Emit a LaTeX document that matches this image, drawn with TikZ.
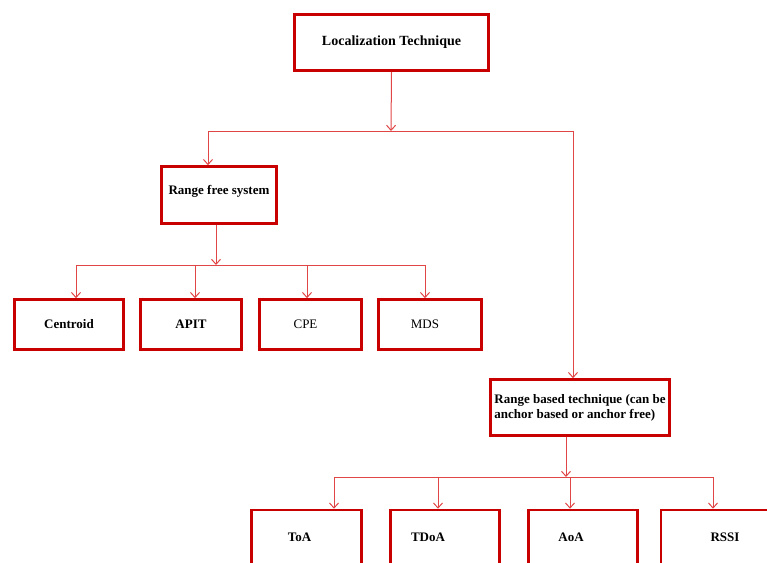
\documentclass[tikz,border=0pt]{standalone}
\usepackage{fontspec}
\setmainfont{Liberation Serif}
\usetikzlibrary{arrows.meta,calc}
\definecolor{boxred}{RGB}{200,0,0}
\definecolor{linkred}{RGB}{225,70,70}

\begin{document}
\begin{tikzpicture}[x=1pt,y=-1pt,>={Straight Barb[length=5pt,width=9pt]},
tech/.style ={rectangle, draw=boxred, line width=2.6pt, fill=white, align=center, inner sep=0pt, font=\fontsize{13}{15}\selectfont\bfseries, minimum height=50pt, minimum width=106pt},
plain/.style ={font=\fontsize{13}{15}\selectfont},
link/.style ={linkred, line width=1pt}]

\useasboundingbox (0,0) rectangle (767,562);
\clip (0,0) rectangle (767,562);

\draw (391.5,42.5) node[tech, minimum width=194pt, minimum height=56pt, font=\fontsize{14}{16}\selectfont\bfseries] (LT) {Localization Technique};
\draw (219,195) node[tech, minimum width=115pt, minimum height=57pt] (RF) {Range free system\\[-5pt]};
\draw (580,407.5) node[tech, minimum width=179pt, minimum height=56pt, align=left] (RB) {Range based technique (can be\\anchor based or anchor free)};

\draw (69,324.5) node[tech, minimum width=109pt] (CEN) {Centroid};
\draw (191,324.5) node[tech, minimum width=101pt] (APIT) {APIT};
\draw (310.5,324.5) node[tech, plain, minimum width=102pt] (CPE) {\hspace*{-10pt}CPE};
\draw (430,324.5) node[tech, plain, minimum width=103pt] (MDS) {\hspace*{-10pt}MDS};

\draw (306.5,539) node[tech, minimum width=110pt, minimum height=58pt] (TOA) {\raisebox{4pt}{\hspace*{-14pt}ToA}};
\draw (445,539) node[tech, minimum width=109pt, minimum height=58pt] (TDOA) {\raisebox{4pt}{\hspace*{-34pt}TDoA}};
\draw (583,539) node[tech, minimum width=109pt, minimum height=58pt] (AOA) {\raisebox{4pt}{\hspace*{-24pt}AoA}};
\draw (716,539) node[tech, minimum width=110pt, minimum height=58pt] (RSSI) {\raisebox{4pt}{\hspace*{18pt}RSSI}};

% junctions on the bus lines
\coordinate (j0) at (391,131);
\coordinate (j0l) at (208,131);
\coordinate (j0r) at (573,131);
\coordinate (j1) at (216,265);
\coordinate (j2) at (566,477);

\draw[link,->] (LT.south) -- (j0);
\draw[link] (j0l) -- (j0r);
\draw[link,->] (j0l) -- (j0l |- RF.north);
\draw[link,->] (j0r) -- (j0r |- RB.north);

\draw[link,->] (j1 |- RF.south) -- (j1);
\draw[link] (76,265) coordinate (j1l) -- (425,265) coordinate (j1r);
\foreach \x/\n in {76/CEN, 195/APIT, 307/CPE, 425/MDS}{
  \coordinate (t\n) at (\x,265);
  \draw[link,->] (t\n) -- (t\n |- \n.north);
}

\draw[link,->] (j2 |- RB.south) -- (j2);
\draw[link] (334,477) coordinate (j2l) -- (713,477) coordinate (j2r);
\foreach \x/\n in {334/TOA, 438/TDOA, 570/AOA, 713/RSSI}{
  \coordinate (b\n) at (\x,477);
  \draw[link,->] (b\n) -- (b\n |- \n.north);
}

\end{tikzpicture}
\end{document}
